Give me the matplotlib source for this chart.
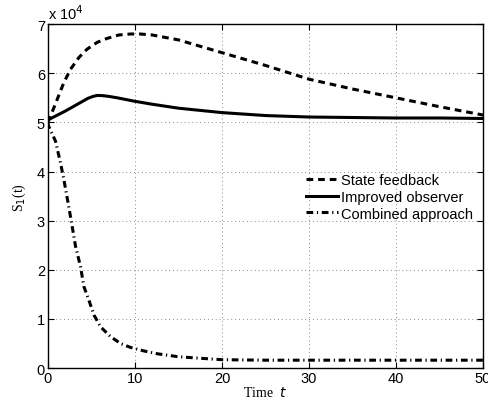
import numpy as np
import matplotlib
matplotlib.use("Agg")
import matplotlib.pyplot as plt

# time points (s) and values in units of 1e4
t_sf = [0, 0.7, 1.84, 2.6, 3.56, 4.5, 5.67, 6.8, 8.16, 9.5, 10.6, 12, 15, 20, 25, 30, 35, 40, 45, 50]
state_feedback = [5.0, 5.30, 5.81, 6.08, 6.32, 6.49, 6.63, 6.71, 6.78, 6.80, 6.80, 6.78, 6.68, 6.42, 6.16, 5.88, 5.68, 5.50, 5.32, 5.15]

t_io = [0, 1, 2, 3, 4, 4.6, 5.2, 5.7, 6.3, 7, 8, 10, 12, 15, 20, 25, 30, 35, 40, 45, 50]
improved_observer = [5.05, 5.14, 5.23, 5.33, 5.43, 5.49, 5.53, 5.55, 5.545, 5.53, 5.50, 5.43, 5.37, 5.29, 5.20, 5.14, 5.11, 5.10, 5.09, 5.09, 5.08]

t_ca = [0, 0.1, 0.88, 1.45, 1.84, 2.4, 2.8, 3.18, 3.75, 4.14, 4.7, 5.3, 6.05, 7.2, 8.35, 9.5, 11, 12.6, 15, 20, 25, 30, 40, 50]
combined = [5.0, 4.92, 4.62, 4.18, 3.84, 3.29, 2.88, 2.48, 2.07, 1.66, 1.39, 1.08, 0.84, 0.64, 0.50, 0.42, 0.35, 0.29, 0.23, 0.17, 0.16, 0.16, 0.16, 0.16]

xticks = [0, 10, 20, 30, 40, 50]
yticks = [0, 1, 2, 3, 4, 5, 6, 7]

fig = plt.figure(figsize=(4.88, 4.06), dpi=100)
ax = fig.add_axes([0.098, 0.091, 0.892, 0.847])

lw = 2.2
ax.plot(t_sf, state_feedback, color='black', lw=lw, linestyle=(0, (2.2, 1.6)), label='State feedback')
ax.plot(t_io, improved_observer, color='black', lw=lw, linestyle='-', label='Improved observer')
ax.plot(t_ca, combined, color='black', lw=lw, linestyle=(0, (2.2, 1.2, 0.4, 1.2)), label='Combined approach')

ax.set_xlim(0, 50)
ax.set_ylim(0, 7)
ax.set_xticks(xticks)
ax.set_yticks(yticks)
ax.tick_params(direction='in', length=4, width=0.8, labelsize=10.5, top=True, right=True, pad=2)
for lab in ax.get_xticklabels() + ax.get_yticklabels():
    lab.set_family('Liberation Sans')
ax.grid(True, linestyle=(0, (1, 3)), color='#888888', linewidth=0.7)
for s in ax.spines.values():
    s.set_linewidth(1.0)

ax.text(0.0, 1.005, r'x 10$^4$', transform=ax.transAxes, fontsize=10.5,
        family='Liberation Sans', ha='left', va='bottom')

ax.set_xlabel(r'Time  $\mathit{t}$', family='Liberation Serif', fontsize=10, labelpad=0)
ax.set_ylabel(r'S$_1$(t)', family='Liberation Serif', fontsize=10, labelpad=6)

leg = ax.legend(loc='upper left', bbox_to_anchor=(0.58, 0.585), frameon=False,
                prop={'family': 'Liberation Sans', 'size': 10.5}, handlelength=2.2,
                handletextpad=0.2, labelspacing=0.2, borderaxespad=0)

fig.savefig('out.png', dpi=100)
